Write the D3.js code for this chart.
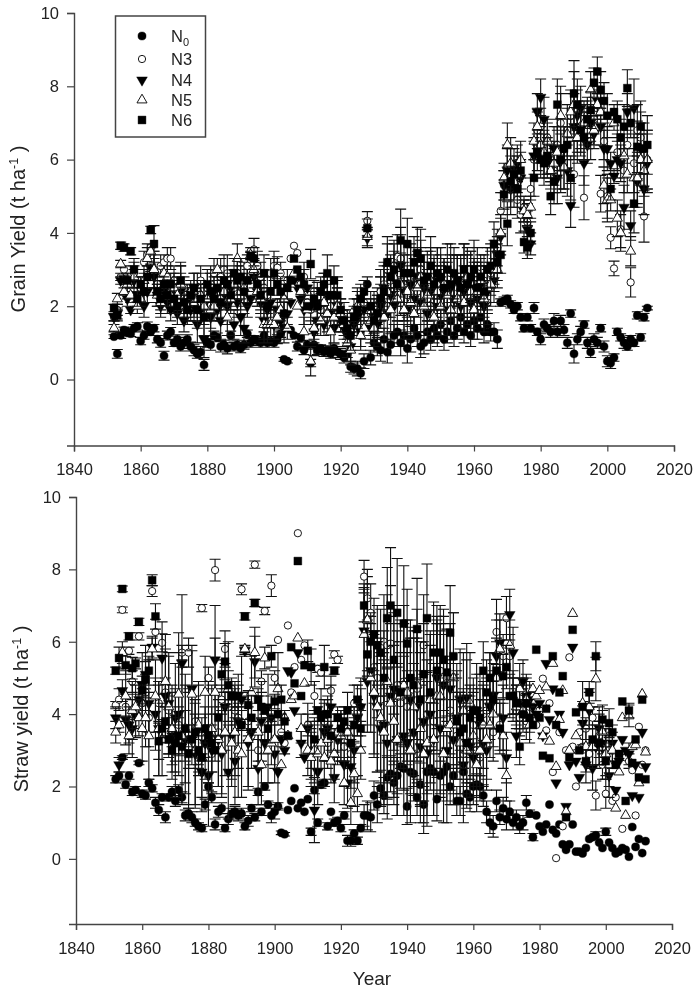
<!DOCTYPE html>
<html>
<head>
<meta charset="utf-8">
<title>Grain and straw yield</title>
<script src="https://cdn.jsdelivr.net/npm/d3@7/dist/d3.min.js"></script>
<style>
  body { margin: 0; background: #fff; }
  text { font-family: "Liberation Sans", Arial, sans-serif; fill: #222; }
</style>
</head>
<body>
<div class="center"></div>
<script>
// one value per year, 1852 to 2012
var years = d3.range(1852, 2013);
var xTicks = [1840, 1860, 1880, 1900, 1920, 1940, 1960, 1980, 2000, 2020];
var yTicks = [0, 2, 4, 6, 8, 10];

// grain yield
var grainN0 = [1.17,.7,1.2,1.35,1.3,1.25,1.4,1.45,
  1.05,1.2,1.45,1.3,1.4,1.1,1.0,.65,1.2,1.3,
  1.0,1.1,.9,1.0,1.1,.9,.8,.7,.75,.4,
  1.0,.95,1.2,1.15,.9,.95,.85,1.2,.9,.95,
  .85,.95,1.25,1.0,1.1,1.05,1.0,1.2,1.0,1.05,
  1.0,1.1,1.25,.55,.5,1.35,1.2,.9,1.15,.8,
  .95,.45,.95,.8,.85,.75,.8,.7,.85,.75,
  .7,.6,.7,.35,.3,.3,.17,.5,2.6,.6,
  1.0,.9,.8,1.1,.75,.95,1.2,1.3,1.0,1.2,
  .85,1.1,1.4,1.2,.9,1.0,1.3,1.1,1.4,1.2,
  1.5,1.1,1.3,1.6,1.2,1.4,1.7,1.3,1.5,1.2,
  1.6,1.4,1.7,1.3,1.5,1.3,1.3,1.1,2.1,2.15,
  2.2,2.05,1.9,2.0,1.7,1.4,1.7,1.4,1.95,1.3,
  1.1,1.5,1.4,1.3,1.6,1.3,1.6,1.35,1.0,1.8,
  .7,1.1,1.3,1.5,1.0,.75,1.1,1.0,1.4,.9,
  .5,.45,.6,1.3,1.15,1.0,.9,1.1,1.0,1.75,
  1.15,1.7,1.95];
var grainN3 = [1.7,1.9,2.8,3.0,2.4,2.2,2.9,2.6,
  2.5,3.2,3.4,3.6,3.0,2.6,3.1,3.2,3.3,3.3,
  2.7,2.5,2.6,2.5,2.2,2.2,2.0,2.4,2.7,2.1,
  2.5,2.6,2.9,2.2,2.8,3.0,2.9,2.4,2.5,2.9,
  2.6,2.8,3.1,3.5,3.55,3.1,2.8,2.5,2.3,2.9,
  3.1,3.05,2.9,2.2,2.7,3.3,3.65,3.45,2.6,2.8,
  2.1,1.9,2.4,2.25,1.9,2.6,2.1,2.0,2.3,2.2,
  1.9,1.8,1.5,1.3,1.6,1.7,1.9,2.1,4.33,1.8,
  1.9,2.0,2.4,2.6,3.0,2.7,3.1,3.35,3.3,2.6,
  2.3,2.8,2.6,2.4,3.0,2.5,2.2,2.8,2.4,2.9,
  2.6,2.3,2.5,2.9,2.2,2.7,2.6,3.0,2.3,2.8,
  2.4,2.9,2.5,2.7,2.1,2.9,3.2,3.6,4.6,5.3,
  5.8,5.6,5.2,4.9,4.5,4.7,4.3,5.2,6.0,6.8,
  6.9,6.1,6.6,5.9,5.7,6.4,7.0,5.8,6.8,7.2,
  5.6,6.9,6.7,4.96,7.2,6.5,7.1,7.4,5.07,6.5,
  5.0,3.87,3.03,6.2,4.1,5.7,6.4,2.65,5.9,6.8,
  6.6,4.45,6.0];
var grainN4 = [1.7,1.8,2.7,2.75,2.2,1.9,2.7,2.3,
  2.3,2.0,2.4,3.05,2.8,2.3,2.0,2.4,2.1,1.9,
  2.3,1.8,2.4,1.6,2.1,1.9,2.5,1.5,1.9,1.1,
  2.2,1.7,2.4,1.9,1.6,2.3,2.0,2.5,1.5,2.1,
  1.7,1.4,2.0,2.2,2.8,2.4,2.1,1.6,1.9,2.1,
  1.5,1.9,1.6,1.4,1.8,2.1,2.7,2.5,2.2,1.9,
  2.5,2.0,1.3,1.6,2.1,1.5,2.3,1.8,1.4,2.0,
  1.6,1.4,1.2,.9,1.5,1.7,1.3,1.9,3.85,1.4,
  1.7,1.5,2.0,2.5,1.8,2.3,2.0,2.6,3.1,2.4,
  1.9,2.6,2.2,2.8,2.1,2.5,1.8,2.4,2.7,2.0,
  2.3,2.6,1.9,2.5,2.2,2.7,2.0,2.4,2.6,2.1,
  2.5,2.2,2.6,2.0,2.4,3.0,2.7,3.4,3.9,5.3,
  5.7,5.2,5.8,5.9,5.5,4.6,4.1,3.7,6.1,7.3,
  7.7,7.1,6.0,5.9,6.3,5.5,5.9,6.3,5.7,4.75,
  6.9,7.2,7.4,5.9,6.4,7.0,6.7,7.6,6.9,6.3,
  6.3,5.9,5.55,6.0,5.9,4.7,7.3,4.2,7.4,5.4,
  6.3,5.2,5.9];
var grainN5 = [1.4,2.2,3.15,2.4,2.6,2.3,2.8,2.0,
  2.2,2.7,3.3,3.5,3.0,2.3,2.1,2.9,2.8,2.3,
  2.5,2.3,2.6,2.0,2.0,2.4,2.1,2.2,2.3,2.0,
  2.2,1.9,2.0,3.0,2.2,2.4,1.7,2.2,2.6,3.3,
  2.4,2.5,2.7,3.4,3.0,2.4,2.2,1.5,1.5,1.5,
  1.5,1.7,1.9,2.2,1.4,2.6,2.9,2.0,2.4,1.3,
  1.9,.5,1.4,2.0,1.6,2.1,1.8,1.3,1.7,2.0,
  1.8,1.5,1.0,.8,1.9,2.0,1.2,1.4,3.9,1.6,
  1.4,1.8,2.2,1.7,2.4,1.9,2.8,2.2,2.6,1.9,
  2.4,2.1,1.8,2.5,2.8,2.0,2.3,2.7,1.7,2.4,
  2.0,2.6,2.3,1.9,2.7,2.2,2.5,2.1,2.8,2.4,
  1.9,2.4,2.7,2.2,2.5,2.6,3.0,3.0,4.0,5.5,
  6.4,5.9,5.4,5.6,6.0,4.6,4.5,4.7,6.5,6.9,
  6.4,6.2,6.5,5.7,5.9,6.2,7.2,5.8,6.7,7.3,
  7.5,6.6,6.9,7.0,6.8,7.9,6.8,7.5,7.3,5.3,
  4.9,4.9,7.0,4.4,4.0,6.1,5.6,3.5,5.5,5.5,
  6.0,5.7,6.0];
var grainN6 = [1.95,1.75,3.65,3.6,2.7,3.5,3.0,2.2,
  2.6,2.4,2.8,4.08,3.7,2.4,2.2,2.6,2.3,2.6,
  2.2,2.0,2.7,2.1,1.9,2.3,2.5,1.9,2.2,1.7,
  2.6,2.4,2.2,2.5,2.1,2.7,2.6,2.3,2.9,2.7,
  2.8,2.4,2.7,3.37,3.3,2.6,2.3,2.9,2.0,2.4,
  2.9,2.6,2.4,1.8,2.5,2.7,3.3,3.0,2.8,2.6,
  2.0,3.15,2.2,2.0,2.4,2.6,2.9,2.3,2.7,2.3,
  1.9,1.6,1.4,1.2,1.7,1.9,2.2,2.4,4.13,2.0,
  1.6,1.8,2.2,2.4,3.2,2.8,3.0,2.6,3.8,2.9,
  3.7,2.9,3.2,3.45,3.3,2.7,2.8,3.1,2.6,2.9,
  2.8,2.5,3.0,2.6,2.9,2.7,2.5,3.0,2.6,2.8,
  3.0,2.5,2.8,2.4,3.0,3.1,3.7,3.2,3.4,5.05,
  4.25,5.4,5.6,5.2,5.7,3.75,3.6,4.0,5.5,6.2,
  6.0,5.9,6.1,5.0,5.4,7.5,6.0,6.3,6.4,5.5,
  7.8,7.5,6.8,6.6,7.1,7.35,8.1,8.4,7.9,7.6,
  7.2,5.2,7.3,7.1,6.6,6.9,7.95,7.0,4.8,6.35,
  6.9,6.3,6.4];
var grainErrN0 = [.05,.12,.08,.08,.1,.08,.1,.1,
  .1,.1,.12,.1,.1,.1,.12,.12,.12,.12,
  .1,.12,.12,.15,.12,.12,.15,.12,.15,.15,
  .12,.15,.12,.12,.15,.12,.15,.12,.12,.12,
  .12,.12,.1,.12,.1,.12,.12,.1,.12,.12,
  .12,.12,.1,.05,.05,0,0,.12,.1,.12,
  .12,.1,.3,.12,.1,.12,.12,.12,.12,.15,
  .15,.15,.2,.15,.15,.2,.15,.2,.2,.2,
  .25,.25,.3,.3,.3,.3,.3,.3,.35,.3,
  .4,.35,.35,.3,.3,.3,.3,.3,.3,.3,
  .3,.3,.3,.35,.3,.3,.3,.3,.3,.3,
  .3,.3,.3,.3,.3,.25,.25,.25,.1,.1,
  .1,.1,.1,.1,.1,.1,.1,.1,.15,.1,
  .15,.15,.1,.15,.2,.15,.15,.15,.15,.1,
  .25,.15,.15,.1,.15,.15,.15,.15,.1,.15,
  .15,.15,.1,.1,.1,.15,.1,.1,.1,.1,
  .1,.1,.05];
var grainErrT = [.1,.15,.1,.1,.2,.1,.3,.2,
  .2,.3,.3,.1,.5,.3,.3,.2,.3,.3,
  .4,.3,.5,.3,.4,.3,.4,.5,.4,.5,
  .4,.5,.4,.3,.5,.4,.5,.4,.4,.4,
  .5,.4,.3,.1,.3,.4,.4,.5,.5,.4,
  .4,.3,.3,.4,.3,0,0,0,0,.4,
  0,.4,.3,.4,.4,.3,.5,.4,.4,.5,
  .3,.3,.4,.4,.3,.5,.4,.3,.25,.4,
  .5,.5,.6,.6,.7,.6,.7,.6,.85,.8,
  .7,.8,.7,.7,.8,.7,.7,.8,.7,.7,
  .8,.7,.7,.8,.7,.7,.8,.7,.8,.7,
  .8,.7,.6,.7,.6,.6,.6,.5,.5,.4,
  .6,.7,.5,.5,.5,.3,.3,.3,.5,.5,
  .5,.6,.5,.5,.6,.7,.8,.6,.7,.6,
  .9,.7,.6,.6,.5,.5,.4,.4,.5,.5,
  .6,.3,.2,.5,.5,.6,.5,.4,.8,.7,
  .7,.7,.8];

// straw yield
var strawN0 = [2.2,2.3,2.8,2.05,2.3,1.85,1.9,2.65,
  1.8,1.75,2.1,1.95,1.55,1.35,1.7,1.15,1.7,1.85,
  1.6,1.9,1.7,1.2,1.25,1.15,1.0,.9,.85,1.5,
  2.0,1.7,.95,1.3,1.4,.85,1.1,1.25,1.3,1.2,
  1.25,.9,1.05,1.4,1.15,1.85,1.3,2.0,1.5,1.2,
  1.3,1.45,.72,.68,1.35,1.6,1.95,1.4,1.55,1.3,
  1.65,.75,1.9,1.0,2.05,2.1,.9,1.3,1.0,1.05,
  .85,1.2,.5,.5,.7,.5,.85,1.2,1.2,1.15,
  1.75,1.5,1.95,1.75,2.25,2.35,2.1,2.3,2.55,2.5,
  1.45,2.4,2.35,1.7,2.05,1.5,2.4,2.5,2.4,1.65,
  2.3,2.4,2.55,2.0,2.3,1.6,1.6,2.4,1.8,1.7,
  2.0,2.05,2.0,1.75,1.3,1.0,.9,1.6,1.15,1.4,
  1.1,1.3,1.0,1.15,.9,1.0,1.55,1.25,.6,1.2,
  .9,.75,.95,1.5,.8,.7,.95,.4,.25,.4,
  .95,.2,.2,.15,.3,.55,.6,.65,.45,.3,
  .75,.45,.3,.15,.2,.3,.25,.06,.88,.33,
  .55,.16,.49];
var strawN3 = [4.25,4.4,6.88,4.2,5.75,4.9,4.0,6.15,
  4.3,4.6,3.9,7.4,6.27,4.3,5.97,4.6,4.1,3.5,
  3.4,3.7,5.7,3.2,5.7,3.0,3.8,2.7,6.93,3.2,
  5.0,2.9,7.98,3.5,4.4,5.8,4.2,4.7,4.1,3.9,
  7.45,4.5,3.8,3.4,8.13,3.0,4.9,6.85,3.7,7.55,
  5.0,6.05,3.5,3.2,6.45,4.6,5.3,9.0,5.5,5.9,
  3.7,3.0,4.5,5.25,5.15,3.8,3.2,4.65,5.65,5.5,
  3.4,3.1,3.6,2.9,4.3,3.8,4.2,7.8,7.2,6.8,
  5.3,5.0,4.4,6.0,5.9,5.95,4.5,4.8,4.3,4.9,
  4.2,4.5,3.5,4.7,3.2,5.9,4.0,4.6,3.8,5.1,
  5.2,4.8,5.0,4.1,3.8,3.4,3.6,2.9,4.4,3.1,
  3.7,3.0,2.8,4.0,4.1,5.0,3.5,6.27,3.7,5.6,
  6.65,5.6,4.5,4.2,3.9,4.6,3.8,4.2,4.5,3.7,
  4.1,4.98,3.55,4.3,2.4,.02,3.5,.9,3.0,5.57,
  3.1,2.0,3.5,3.1,3.6,2.9,3.9,1.75,3.4,2.6,
  1.8,3.0,1.6,1.7,2.9,.83,2.8,2.7,2.45,1.2,
  3.65,2.6,3.0];
var strawN4 = [3.9,2.6,4.65,3.85,3.7,3.6,3.95,4.4,
  4.8,5.1,4.3,5.85,4.0,3.6,5.55,4.5,4.3,3.4,
  3.9,4.0,5.4,3.3,3.0,4.7,2.9,3.6,2.4,3.2,
  2.3,3.0,5.5,3.3,2.9,4.2,2.4,3.4,2.7,3.8,
  4.4,5.75,3.2,3.5,5.45,2.5,3.8,3.2,4.2,3.9,
  2.9,2.4,3.3,3.0,5.2,5.15,4.1,5.7,3.2,2.8,
  3.6,3.0,1.35,2.4,4.0,3.5,3.6,4.2,2.25,3.3,
  3.4,2.6,2.1,2.55,3.0,3.9,4.2,6.3,4.9,5.2,
  4.5,4.2,3.6,3.7,3.2,4.5,4.7,3.3,4.6,3.4,
  3.2,4.4,3.5,4.2,3.1,3.8,2.9,4.0,3.3,5.0,
  3.6,4.8,3.0,4.7,3.3,3.9,4.4,2.6,4.45,3.1,
  2.8,4.1,3.7,3.2,3.0,4.2,4.5,5.6,5.97,3.9,
  2.8,6.75,5.7,3.4,4.3,4.9,4.5,4.4,4.2,4.0,
  4.3,3.4,5.4,3.85,4.7,2.1,4.0,3.5,1.45,2.6,
  5.85,2.7,2.25,3.75,2.6,4.1,2.5,3.1,3.6,3.2,
  2.9,2.3,3.2,1.9,2.7,3.3,3.0,2.9,1.75,2.6,
  1.7,3.5,2.55];
var strawN5 = [3.5,3.7,5.7,4.5,3.4,4.1,4.2,3.9,
  3.6,3.9,3.4,5.8,4.5,3.6,3.3,4.9,4.2,3.6,
  3.2,4.55,3.4,3.6,3.1,4.55,3.0,3.7,2.8,4.6,
  3.5,3.6,4.6,3.3,3.0,3.5,4.7,3.2,3.5,3.0,
  2.9,5.8,3.3,4.6,5.7,3.5,2.6,5.55,3.0,3.2,
  3.3,4.7,2.6,3.9,3.4,4.4,4.5,6.1,3.6,4.85,
  3.0,2.8,3.0,2.9,3.2,2.8,3.3,2.7,2.9,3.5,
  3.4,2.1,3.5,1.55,2.35,1.8,3.0,6.2,6.6,5.0,
  4.6,4.2,3.9,3.5,4.9,4.3,3.8,3.3,4.5,4.8,
  4.6,3.0,4.2,4.8,3.6,2.9,3.2,4.4,3.3,4.5,
  4.5,2.9,3.6,3.7,5.0,3.7,3.2,4.1,3.0,4.3,
  3.4,2.6,3.0,3.7,3.3,3.7,4.0,5.0,5.8,3.4,
  2.3,5.9,4.5,4.2,4.7,4.1,4.4,3.7,4.7,4.5,
  4.65,3.4,4.75,3.25,5.4,2.55,3.85,4.65,1.3,3.0,
  6.78,3.4,3.0,4.3,3.1,4.2,3.1,4.97,3.2,3.5,
  2.9,2.6,3.0,1.4,2.4,3.9,1.2,3.95,3.1,3.15,
  2.1,4.55,2.95];
var strawN6 = [5.2,5.55,7.46,5.35,6.15,5.27,5.4,6.55,
  4.65,4.95,5.2,7.7,6.7,3.25,3.6,3.8,3.3,3.0,
  3.2,3.4,3.1,3.6,2.9,3.3,3.5,3.0,2.8,3.6,
  3.4,3.2,3.0,3.9,5.1,5.45,4.8,4.5,4.5,4.5,
  3.7,6.7,4.25,3.9,7.07,4.4,4.2,4.1,3.6,5.6,
  4.35,4.0,4.4,3.8,3.4,5.85,4.85,8.23,4.5,5.35,
  5.75,5.3,3.3,4.1,3.9,5.3,4.0,3.4,5.2,3.9,
  3.6,3.8,4.1,3.2,3.7,4.4,3.6,7.0,5.65,6.0,
  6.2,5.9,5.7,5.0,6.65,7.0,5.5,6.8,4.6,6.5,
  5.95,5.0,4.8,6.35,4.4,5.1,6.65,4.6,5.7,5.2,
  5.7,5.5,5.15,6.25,5.6,3.8,3.5,3.6,3.2,3.9,
  4.1,4.1,3.9,5.2,4.6,5.0,4.4,5.2,3.6,5.05,
  5.3,4.5,4.5,4.3,3.1,4.0,4.3,3.9,3.7,5.78,
  3.9,2.85,4.15,2.78,5.6,3.7,4.6,5.05,1.15,2.8,
  6.33,4.05,3.0,4.2,2.7,4.6,3.3,5.6,3.2,3.85,
  2.7,3.75,3.5,2.6,2.9,4.35,1.6,4.1,2.65,3.3,
  2.25,4.4,2.2];
var strawErrN0 = [.1,.1,.05,.1,.1,.1,.1,.05,
  .1,.1,.1,.1,.15,.15,.1,.15,.1,.15,
  .15,.15,.15,.15,.15,.15,.1,.1,.1,.15,
  .1,.15,.15,.15,.15,.1,.15,.15,.15,.15,
  .15,.1,.15,.1,.1,.1,.1,.1,.1,.2,
  .2,.1,.05,.05,0,0,0,0,0,0,
  0,.1,.1,.1,.1,.1,.1,0,.1,.1,
  .1,.1,.15,.15,.1,.1,.1,.3,.4,.4,
  .4,.5,.5,.5,.6,.5,.6,.5,.6,.6,
  .5,.6,.6,.5,.6,.5,.6,.6,.5,.6,
  .6,.5,.5,.5,.5,.4,.4,.4,.4,.4,
  .3,.3,.3,.3,.3,.3,.3,.3,.2,.3,
  .3,.3,.2,.2,.2,.2,.2,.1,.1,0,
  0,0,0,0,0,0,0,0,0,0,
  0,0,0,0,0,0,0,.1,0,0,
  .1,0,0,0,0,0,0,0,0,0,
  0,0,0];
var strawErrHigh = [.1,.3,.08,.25,.1,.3,.15,.1,
  .4,.5,.4,.15,.35,.5,.25,.4,.4,.4,
  .5,.5,.2,.5,.4,.4,.5,.4,.1,.4,
  .3,.5,.3,.5,.4,.5,.4,.3,.4,.3,
  .15,.1,.4,.4,.1,.3,.3,.1,.4,.3,
  .2,0,.4,.3,0,0,0,0,0,0,
  .3,.5,.4,.1,.1,.6,.5,.4,.1,.1,
  .4,.4,.5,.4,.5,.4,.5,.45,.6,.8,
  1.0,1.1,1.2,1.3,1.4,1.6,1.5,1.5,1.4,1.6,
  1.5,1.6,1.5,1.4,1.6,1.4,1.5,1.6,1.4,1.5,
  1.3,1.4,1.2,1.3,1.2,1.2,1.0,1.1,1.1,.9,
  .9,1.0,.8,.8,.9,.7,.8,.9,.7,.6,
  .6,.6,.5,.5,.5,.4,.5,.4,0,0,
  0,0,0,0,0,0,0,0,0,0,
  0,0,0,0,.3,.3,.3,.4,.6,.4,
  .4,.4,0,0,0,0,0,.2,0,0,
  0,0,0];
var strawErrLow = [.3,.2,.3,.7,.5,.8,.6,.5,
  .9,.8,1.2,.3,1.0,1.3,1.0,1.3,1.4,1.2,
  1.5,1.7,1.9,1.5,1.6,1.2,1.5,1.2,1.1,1.0,
  1.4,1.2,1.5,1.3,1.2,1.2,1.3,1.2,1.2,1.3,
  1.2,.1,1.3,1.0,.7,1.0,1.1,.3,.9,.6,
  .8,1.0,0,0,0,0,0,0,.4,0,
  .7,.8,.9,.9,.7,.8,.8,.6,.7,.7,
  .7,.6,.7,.6,.9,.5,.8,1.3,1.4,1.5,
  1.7,1.8,1.8,2.0,2.1,2.2,2.1,2.1,2.0,2.2,
  2.0,2.0,1.9,2.1,2.1,2.2,2.0,1.9,2.1,2.0,
  1.8,1.9,2.0,1.8,1.8,1.5,1.4,1.6,1.5,1.4,
  1.3,1.3,1.4,1.2,1.1,.9,.9,1.0,.8,.9,
  .7,.7,.7,.6,.7,.6,.6,.5,0,0,
  0,0,0,0,0,0,0,0,0,0,
  0,0,0,.6,.5,.5,.6,.6,.6,.6,
  .7,.6,.5,0,0,0,0,.3,0,0,
  0,0,0];

var seriesNames = ["N0", "N3", "N4", "N5", "N6"];
var legendLabels = ["N", "N3", "N4", "N5", "N6"];
var seriesFill = ["#000", "#fff", "#000", "#fff", "#000"];
var seriesShape = [d3.symbolCircle, d3.symbolCircle, d3.symbolTriangle, d3.symbolTriangle, d3.symbolSquare];
var seriesSize = [52, 42, 50, 44, 62];
var seriesFlip = [false, false, true, false, false];

var svg = d3.select(".center").append("svg")
    .attr("width", 700)
    .attr("height", 995)
    .style("display", "block")
    .style("filter", "blur(0.4px)");

function markerPath(i) {
    return d3.symbol().type(seriesShape[i]).size(seriesSize[i])();
}

function drawPanel(p) {
    var x = d3.scaleLinear().domain([1840, 2020]).range([p.left, p.right]);
    var y = d3.scaleLinear().domain([-1.8, 10]).range([p.bottom, p.top]);

    var g = svg.append("g");

    p.values.forEach(function(vals, i) {
        var rows = years.map(function(yr, k) {
            return {year: yr, v: vals[k], e: p.errors[i][k]};
        }).filter(function(d) { return d.v != null; });

        var bars = rows.filter(function(d) { return d.e > 0; });
        var s = g.append("g").attr("class", seriesNames[i]);

        // error bars first so the symbols sit on top
        s.append("path")
            .attr("fill", "none")
            .attr("stroke", "#111")
            .attr("stroke-width", 1.1)
            .attr("d", bars.map(function(d) {
                var cx = x(d.year), hi = y(d.v + d.e), lo = y(d.v - d.e);
                return "M" + cx + "," + hi + "V" + lo +
                    "M" + (cx - 5.5) + "," + hi + "H" + (cx + 5.5) +
                    "M" + (cx - 5.5) + "," + lo + "H" + (cx + 5.5);
            }).join(""));

        s.selectAll("path.mark")
            .data(rows)
            .enter().append("path")
            .attr("class", "mark")
            .attr("d", markerPath(i))
            .attr("fill", seriesFill[i])
            .attr("stroke", "#000")
            .attr("stroke-width", seriesFill[i] == "#fff" ? 0.9 : 0.4)
            .attr("transform", function(d) {
                return "translate(" + x(d.year) + "," + y(d.v) + ")" + (seriesFlip[i] ? " rotate(180)" : "");
            });
    });

    // axes
    var xAxis = g.append("g")
        .attr("transform", "translate(0," + p.bottom + ")")
        .call(d3.axisBottom(x).tickValues(xTicks).tickFormat(d3.format("d")).tickSize(6).tickPadding(12));
    var yAxis = g.append("g")
        .attr("transform", "translate(" + p.left + ",0)")
        .call(d3.axisLeft(y).tickValues(yTicks).tickFormat(d3.format("d")).tickSize(7).tickPadding(8));

    [xAxis, yAxis].forEach(function(a) {
        a.selectAll("text").style("font-size", "16.5px").style("font-family", "Liberation Sans").attr("fill", "#222");
        a.selectAll("line").attr("stroke", "#444").attr("stroke-width", 1.2);
        a.select(".domain").attr("stroke", "#444").attr("stroke-width", 1.4);
    });

    // y title, with the -1 raised
    var title = g.append("text")
        .attr("transform", "translate(" + p.titleX + "," + p.titleY + ") rotate(-90)")
        .attr("text-anchor", "middle")
        .style("font-size", "20px");
    title.append("tspan").text(p.title + " (t ha");
    title.append("tspan").attr("dy", -7).style("font-size", "12.5px").text("-1");
    title.append("tspan").attr("dy", 7).text(" )");
}

drawPanel({
    left: 74, right: 674, top: 13, bottom: 445.5,
    values: [grainN0, grainN3, grainN4, grainN5, grainN6],
    errors: [grainErrN0, grainErrT, grainErrT, grainErrT, grainErrT],
    title: "Grain Yield", titleX: 25, titleY: 229
});

drawPanel({
    left: 76, right: 672, top: 497, bottom: 924,
    values: [strawN0, strawN3, strawN4, strawN5, strawN6],
    errors: [strawErrN0, strawErrHigh, strawErrLow, strawErrLow, strawErrHigh],
    title: "Straw yield", titleX: 28, titleY: 709
});

svg.append("text")
    .attr("x", 372)
    .attr("y", 985)
    .attr("text-anchor", "middle")
    .style("font-size", "19px")
    .text("Year");

// legend
var legend = svg.append("g").attr("class", "legend");
legend.append("rect")
    .attr("x", 115.5)
    .attr("y", 16)
    .attr("width", 90)
    .attr("height", 121)
    .attr("fill", "#fff")
    .attr("stroke", "#444")
    .attr("stroke-width", 1.5);

var legendY = [36, 59, 80, 100, 120];
seriesNames.forEach(function(name, i) {
    legend.append("path")
        .attr("d", markerPath(i))
        .attr("fill", seriesFill[i])
        .attr("stroke", "#000")
        .attr("stroke-width", seriesFill[i] == "#fff" ? 0.9 : 0.4)
        .attr("transform", "translate(142," + legendY[i] + ")" + (seriesFlip[i] ? " rotate(180)" : ""));
    var t = legend.append("text")
        .attr("x", 171)
        .attr("y", legendY[i] + 6)
        .style("font-size", "16.5px")
        .text(legendLabels[i]);
    if (i == 0) {
        t.append("tspan").attr("dy", 4).style("font-size", "11px").text("0");
    }
});
</script>
</body>
</html>
